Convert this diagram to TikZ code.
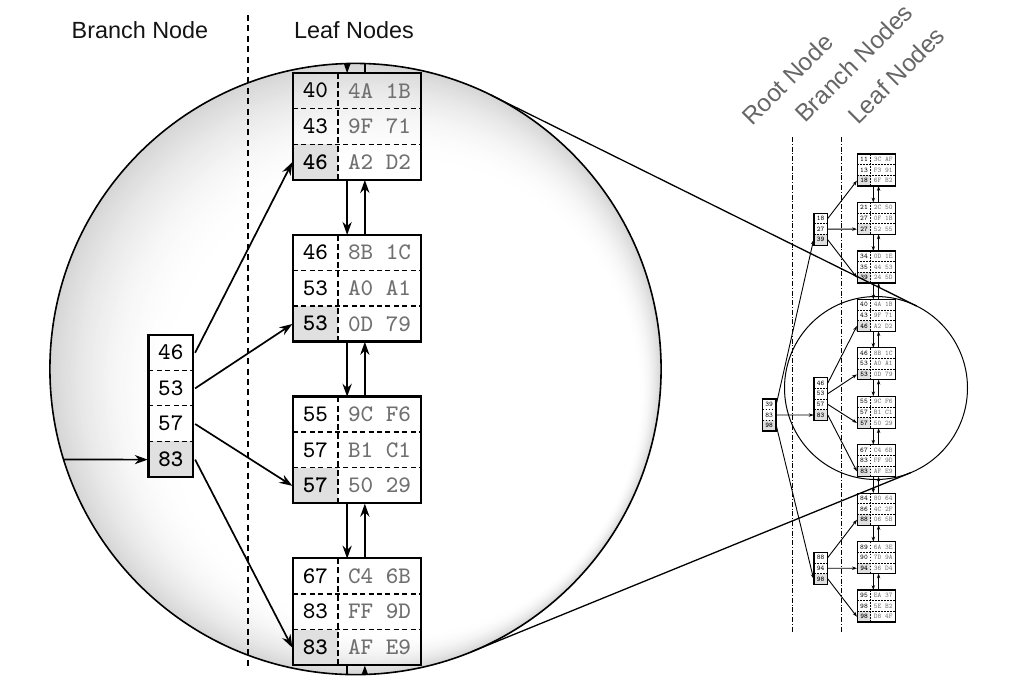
\documentclass[tikz,border=0pt]{standalone}
\usepackage{fontspec}
\newfontfamily\labfont{Liberation Sans}
\newfontfamily\keybold{lmmonolt10-bold.otf}
\usetikzlibrary{arrows.meta,calc}

\tikzset{
 keytxt/.style={inner sep=0pt, minimum width=6.7pt, minimum height=5.333pt, font=\fontsize{3.55}{4}\selectfont\ttfamily, text=black},
 datatxt/.style={inner sep=0pt, minimum width=12.5pt, minimum height=5.333pt, font=\fontsize{3.55}{4}\selectfont\ttfamily, text=black!56},
 keyfill/.style={fill=black!12},
 smalltree/.style={treebox/.style={line width=0.6pt}, rowsep/.style={line width=0.3pt, dash pattern=on 0.9pt off 0.6pt}, colsep/.style={line width=0.35pt, dash pattern=on 0.9pt off 0.6pt}, link/.style={line width=0.45pt, -{Stealth[length=2.4pt,width=1.7pt]}}},
 bigtree/.style={treebox/.style={line width=1.1pt}, rowsep/.style={line width=0.6pt, dash pattern=on 2.5pt off 1.7pt}, colsep/.style={line width=0.8pt, dash pattern=on 3pt off 1.6pt}, link/.style={line width=0.85pt, -{Stealth[length=6.5pt,width=4.6pt]}}},
 lab/.style={font={\labfont\fontsize{11.7}{14}\selectfont}, text=black!92, inner sep=0pt},
 rlab/.style={font={\labfont\fontsize{12.2}{14}\selectfont}, text=black!60, inner sep=0pt, rotate=45, anchor=base west},
}
\newcommand\kb{\keybold\fontsize{3.55}{4}\selectfont}

% name, x left, y top, number of rows, keys
\newcommand\keycol[5]{%
  \fill[keyfill] (#2,{#3+10.667*(#4-1)}) rectangle ++(13.4,10.667);
  \foreach \k [count=\n] in {#5} {
    \ifnum\n<#4\relax \draw[rowsep] (#2,{#3+10.667*\n}) -- ++(13.4,0);\fi
    \node[keytxt] (#1-\n) at ({#2+6.7},{#3+10.667*(\n-0.5)}) {\ifnum\n=#4\relax\kb\fi\k};
  }
  \draw[treebox] (#2,#3) rectangle ++(13.4,{10.667*#4});
}

% link coordinates of a leaf whose top is at y
\newcommand\leafends[2]{%
  \coordinate (#1-td) at (873.3,#2);
  \coordinate (#1-bd) at (873.3,{#2+32});
  \coordinate (#1-tu) at (878.6,#2);
  \coordinate (#1-bu) at (878.6,{#2+32});
}

% name, y top, k1,k2,k3, d1,d2,d3
\newcommand\leafnode[8]{%
  \fill[keyfill] (857.3,{#2+21.333}) rectangle ++(13.4,10.667);
  \draw[rowsep] (857.3,{#2+10.667}) -- ++(38.4,0) (857.3,{#2+21.333}) -- ++(38.4,0);
  \draw[colsep] (870.7,#2) -- ++(0,32);
  \draw[treebox] (857.3,#2) rectangle ++(38.4,32);
  \node[keytxt] (#1-k1) at (864,{#2+5.333}) {#3};
  \node[keytxt] (#1-k2) at (864,{#2+16}) {#4};
  \node[keytxt] (#1-k3) at (864,{#2+26.667}) {\kb #5};
  \node[datatxt] (#1-d1) at (883.2,{#2+5.333}) {#6};
  \node[datatxt] (#1-d2) at (883.2,{#2+16}) {#7};
  \node[datatxt] (#1-d3) at (883.2,{#2+26.667}) {#8};
  \leafends{#1}{#2}
}

\newcommand\chain[2]{%
  \draw[link] (#1-bd) -- (#2-td);
  \draw[link] (#2-tu) -- (#1-bu);
}

\newcommand\midpart{%
  \keycol{B2}{814}{377.7}{4}{46,53,57,83}
  \leafnode{L3}{299.33}{40}{43}{46}{4A 1B}{9F 71}{A2 D2}
  \leafnode{L4}{347.78}{46}{53}{53}{8B 1C}{A0 A1}{0D 79}
  \leafnode{L5}{396.22}{55}{57}{57}{9C F6}{B1 C1}{50 29}
  \leafnode{L6}{444.67}{67}{83}{83}{C4 6B}{FF 9D}{AF E9}
  \draw[link] (B2-1.east) -- (L3-k3.west);
  \draw[link] (B2-2.east) -- (L4-k3.west);
  \draw[link] (B2-3.east) -- (L5-k3.west);
  \draw[link] (B2-4.east) -- (L6-k3.west);
  \chain{L3}{L4}\chain{L4}{L5}\chain{L5}{L6}
}

\newcommand\drawtree{%
  \keycol{R}{762.5}{399}{3}{39,83,98}
  \keycol{B1}{814}{213.1}{3}{18,27,39}
  \keycol{B3}{814}{552.2}{3}{88,94,98}
  \leafnode{L0}{154}{11}{13}{18}{3C AF}{F3 91}{6F B2}
  \leafnode{L1}{202.44}{21}{27}{27}{2C 50}{0F 1B}{52 55}
  \leafnode{L2}{250.89}{34}{35}{39}{0D 1E}{44 53}{24 5D}
  \leafnode{L7}{493.11}{84}{86}{88}{80 64}{4C 2F}{06 5B}
  \leafnode{L8}{541.56}{89}{90}{94}{6A 3E}{7D 9A}{36 D4}
  \leafnode{L9}{590}{95}{98}{98}{EA 37}{5E B2}{D8 4F}
  \midpart
  \draw[link] (R-1.east) -- (B1-3.west);
  \draw[link] (R-2.east) -- (B2-4.west);
  \draw[link] (R-3.east) -- (B3-3.west);
  \draw[link] (B1-1.east) -- (L0-k3.west);
  \draw[link] (B1-2.east) -- (L1-k3.west);
  \draw[link] (B1-3.east) -- (L2-k3.west);
  \draw[link] (B3-1.east) -- (L7-k3.west);
  \draw[link] (B3-2.east) -- (L8-k3.west);
  \draw[link] (B3-3.east) -- (L9-k3.west);
  \chain{L0}{L1}\chain{L1}{L2}\chain{L2}{L3}\chain{L6}{L7}\chain{L7}{L8}\chain{L8}{L9}
}

\newcommand\drawlens{%
  \midpart
  \leafends{L2}{250.89}
  \leafends{L7}{493.11}
  \coordinate (R-2e) at (775.9,415);
  \draw[link] (R-2e) -- (B2-4.west);
  \chain{L2}{L3}\chain{L6}{L7}
}

\begin{document}
\begin{tikzpicture}[x=0.5pt,y=-0.5pt]
\useasboundingbox (0,0) rectangle (1023,693);
\coordinate (C1) at (355.5,369);
\coordinate (C2) at (876,388);
% magnified lens with soft shading toward its rim
\begin{scope}
  \clip (C1) circle [radius=305.6];
  \foreach \i in {0,...,40} {
    \pgfmathsetmacro\tt{\i/40}
    \pgfmathsetmacro\rr{305.6-72*\tt}
    \pgfmathsetmacro\gg{16*(1-\tt)*(1-\tt)}
    \fill[black!\gg] ($(C1)+({50*\tt},{30*\tt})$) circle [radius=\rr];
  }
  \begin{scope}[shift={(355.5,369)}, scale=3.34, shift={(-876,-388)}, transform shape, bigtree]
    \drawlens
  \end{scope}
\end{scope}
\draw[line width=0.8pt] (C1) circle [radius=305.6];
% labels of magnified view
\node[lab] (lbB) at (140,30) {Branch Node};
\node[lab] (lbL) at (354,30) {Leaf Nodes};
\coordinate (sepT) at (248,15);
\coordinate (sepB) at (248,668);
\draw[line width=0.65pt, dash pattern=on 3pt off 2.2pt] (sepT) -- (sepB);
% small overview
\coordinate (d1T) at (792.3,137);
\coordinate (d1B) at (792.3,633);
\coordinate (d2T) at (841.7,137);
\coordinate (d2B) at (841.7,633);
\draw[line width=0.45pt, dash pattern=on 2.5pt off 0.9pt on 0.5pt off 0.9pt] (d1T) -- (d1B);
\draw[line width=0.45pt, dash pattern=on 2.5pt off 0.9pt on 0.5pt off 0.9pt] (d2T) -- (d2B);
\begin{scope}[smalltree]
  \drawtree
\end{scope}
\draw[line width=0.5pt] (C2) circle [radius=91.5];
% tangent lines
\coordinate (T1) at (491.2,95.18);
\coordinate (T2) at (916.63,306.02);
\coordinate (T3) at (470.88,651.99);
\coordinate (T4) at (910.54,472.73);
\draw[line width=0.65pt] (T1) -- (T2);
\draw[line width=0.65pt] (T3) -- (T4);
% rotated labels
\node[rlab] (rlR) at (752,127) {Root Node};
\node[rlab] (rlB) at (805,124) {Branch Nodes};
\node[rlab] (rlL) at (858,126) {Leaf Nodes};
\end{tikzpicture}
\end{document}
